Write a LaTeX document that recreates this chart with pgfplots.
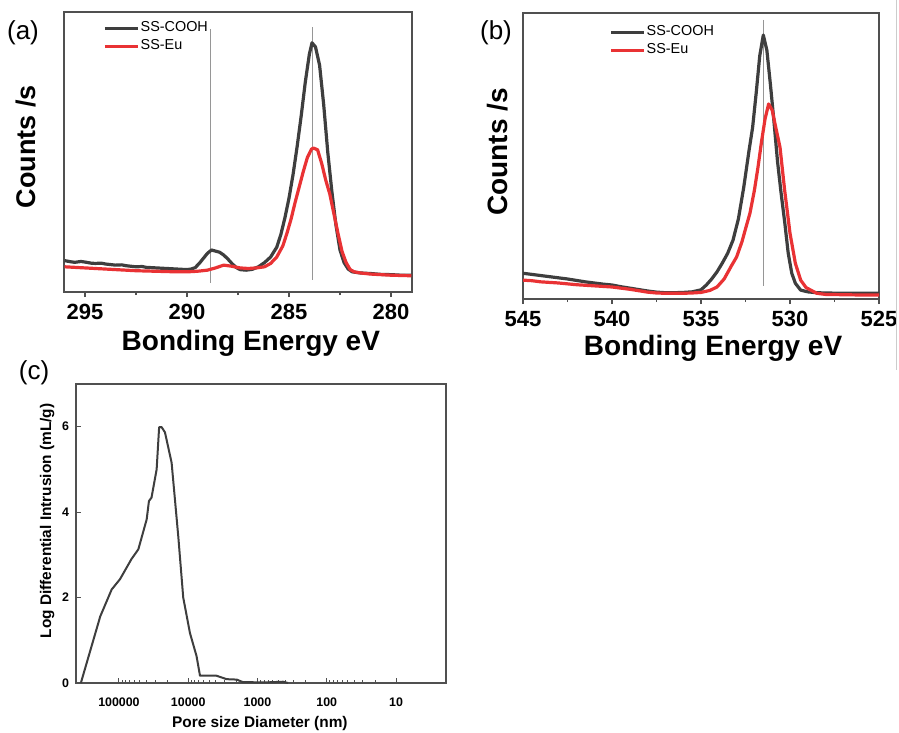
\documentclass[border=0pt]{standalone}
\usepackage{fontspec}
\setmainfont{Liberation Sans}
\usepackage{pgfplots}
\pgfplotsset{compat=1.18}

\definecolor{cooh}{RGB}{62,62,62}
\definecolor{eu}{RGB}{233,50,52}
\definecolor{frame}{RGB}{80,80,80}
\definecolor{marker}{RGB}{150,150,150}

\pgfplotsset{
  xps/.style={
    scale only axis,
    x dir=reverse,
    ymin=0, ymax=100,
    ytick=\empty,
    xtick pos=bottom,
    tick align=outside,
    major tick length=2.5pt,
    minor tick length=1.6pt,
    axis line style={frame, line width=0.6pt},
    every tick/.append style={frame, line width=0.6pt},
    /pgf/number format/assume math mode=true,
    xticklabel style={font=\fontsize{11}{11}\selectfont\bfseries},
    label style={font=\fontsize{14}{14}\selectfont\bfseries},
    legend cell align=left,
    legend image code/.code={\draw[#1, line width=1.5pt] (0pt,0pt) -- (16.5pt,0pt);},
    legend style={draw=none, fill=none, anchor=north west,
      font=\fontsize{7.2}{7.2}\selectfont, row sep=1.2pt,
      nodes={inner sep=0.6pt}},
  },
  cooh line/.style={color=cooh, line width=1.6pt, line join=round},
  eu line/.style={color=eu, line width=1.6pt, line join=round},
}

\begin{document}
\begin{tikzpicture}
\path[use as bounding box] (0pt,0pt) rectangle (449.5pt,-366.5pt);

% (a) C 1s
\begin{axis}[xps,
  at={(32pt,-146pt)}, anchor=south west,
  width=174pt, height=140pt,
  xmin=278.97, xmax=296.03,
  xtick={280,285,290,295}, minor xtick={282.5,287.5,292.5},
  xlabel={Bonding Energy eV}, ylabel={Counts /s},
  xlabel style={at={(axis description cs:0.537,-0.182)}, anchor=center},
  ylabel style={at={(axis description cs:-0.109,0.518)}, anchor=center,
    font=\fontsize{13.5}{13.5}\selectfont\bfseries},
  legend style={at={(0.095,0.985)}},
]
\addplot[marker, line width=0.5pt, forget plot] coordinates {(288.87,93.9) (288.87,3.2)};
\addplot[marker, line width=0.5pt, forget plot] coordinates {(283.87,94.6) (283.87,4.3)};
\addplot[cooh line] coordinates {
(296.0,11.2) (295.7,10.8) (295.5,10.6) (295.2,10.9) (295.0,10.7) (294.7,10.3)
(294.5,10.2) (294.2,10.3) (294.0,10.0) (293.5,9.6) (293.2,9.7) (293.0,9.4)
(292.5,9.0) (292.2,9.1) (292.0,8.8) (291.5,8.6) (291.0,8.4) (290.5,8.2)
(290.0,8.0) (289.8,8.2) (289.6,8.7) (289.4,10.2) (289.2,12.0) (289.0,13.8)
(288.8,15.0) (288.6,14.6) (288.4,14.2) (288.2,13.2) (288.0,11.8) (287.8,10.2)
(287.6,8.8) (287.4,8.0) (287.1,7.8) (286.8,8.1) (286.5,9.0) (286.2,10.5)
(285.9,12.5) (285.6,16.0) (285.4,20.5) (285.2,26.5) (285.0,33.5) (284.8,42)
(284.6,52) (284.4,63) (284.2,75) (284.0,85) (283.87,89) (283.7,87.5)
(283.5,81) (283.3,67) (283.1,50) (282.9,36) (282.7,24) (282.5,15)
(282.3,10.5) (282.1,8.2) (281.9,7.2) (281.5,6.8) (281.0,6.6) (280.5,6.3)
(280.0,6.2) (279.5,6.0) (279.0,6.0)
};
\addlegendentry{SS-COOH}
\addplot[eu line] coordinates {
(296.0,9.0) (295.5,8.8) (295.0,8.6) (294.5,8.4) (294.0,8.2) (293.5,8.0)
(293.0,7.8) (292.5,7.6) (292.0,7.5) (291.5,7.4) (291.0,7.3) (290.5,7.2)
(290.0,7.2) (289.5,7.4) (289.0,7.8) (288.6,8.6) (288.2,9.6) (287.8,9.2)
(287.4,8.6) (287.0,8.4) (286.6,8.6) (286.2,9.0) (285.9,10.2) (285.6,12.5)
(285.3,16.5) (285.1,21) (284.9,26) (284.7,32) (284.5,37.5) (284.3,43)
(284.1,48) (283.9,51) (283.8,51.4) (283.6,50.8) (283.4,46) (283.2,40)
(283.0,35) (282.8,28) (282.6,21) (282.4,14.5) (282.2,10.5) (282.0,8.0)
(281.8,7.2) (281.5,6.8) (281.0,6.4) (280.5,6.2) (280.0,6.0) (279.5,5.9)
(279.0,5.8)
};
\addlegendentry{SS-Eu}
\end{axis}

% (b) O 1s
\begin{axis}[xps,
  at={(261.5pt,-149.5pt)}, anchor=south west,
  width=178pt, height=143pt,
  xmin=525, xmax=545,
  xtick={525,530,535,540,545}, minor xtick={527.5,532.5,537.5,542.5},
  xlabel={Bonding Energy eV}, ylabel={Counts /s},
  xlabel style={at={(axis description cs:0.534,-0.171)}, anchor=center},
  ylabel style={at={(axis description cs:-0.070,0.514)}, anchor=center},
  legend style={at={(0.225,0.975)}},
]
\addplot[marker, line width=0.5pt, forget plot] coordinates {(531.5,97.6) (531.5,4.5)};
\addplot[cooh line] coordinates {
(545.0,9.0) (544.5,8.6) (544.0,8.2) (543.5,7.8) (543.0,7.4) (542.5,7.0)
(542.0,6.5) (541.5,6.0) (541.0,5.6) (540.5,5.2) (540.0,4.9) (539.5,4.3)
(539.0,3.8) (538.5,3.3) (538.0,2.8) (537.5,2.4) (537.0,2.2) (536.5,2.2)
(536.0,2.3) (535.5,2.5) (535.0,3.2) (534.7,4.9) (534.4,7.0) (534.1,9.5)
(533.8,12.6) (533.5,16) (533.2,20.6) (532.9,28) (532.6,39) (532.3,52)
(532.1,60) (531.9,72) (531.7,85) (531.5,92.3) (531.3,87) (531.1,75)
(530.9,62) (530.7,48) (530.5,37) (530.3,27) (530.1,16) (529.9,9)
(529.7,5.5) (529.4,3.1) (529.0,2.5) (528.5,2.2) (528.0,2.1) (527.0,2.0)
(526.0,2.0) (525.0,2.0)
};
\addlegendentry{SS-COOH}
\addplot[eu line] coordinates {
(545.0,6.6) (544.5,6.4) (544.0,6.0) (543.5,5.8) (543.0,5.6) (542.5,5.3)
(542.0,5.0) (541.5,4.8) (541.0,4.6) (540.5,4.4) (540.0,4.2) (539.5,3.8)
(539.0,3.4) (538.5,2.9) (538.0,2.4) (537.5,2.1) (537.0,2.0) (536.5,2.0)
(536.0,2.0) (535.5,2.1) (535.0,2.3) (534.5,3.0) (534.1,4.2) (533.7,7.0)
(533.3,11.5) (533.0,14.7) (532.7,20) (532.5,24.5) (532.25,30) (532.0,38)
(531.8,46) (531.6,55) (531.4,63) (531.2,68.2) (531.0,66) (530.8,60)
(530.56,53) (530.3,38) (530.0,23) (529.7,12.5) (529.4,6.6) (529.1,4.0)
(528.5,2.0) (528.0,1.6) (527.0,1.5) (526.0,1.4) (525.0,1.4)
};
\addlegendentry{SS-Eu}
\end{axis}

% (c) pore size distribution
\begin{axis}[
  scale only axis,
  at={(38pt,-341.5pt)}, anchor=south west,
  width=185pt, height=149.5pt,
  xmode=log, x dir=reverse,
  xmin=1.9, xmax=417000,
  ymin=0, ymax=7,
  xtick={10,100,1000,10000,100000},
  xticklabels={10,100,1000,10000,100000},
  ytick={0,2,4,6},
  tick pos=left, tick align=inside,
  major tick length=2.5pt, minor tick length=1.3pt,
  axis line style={frame, line width=0.6pt},
  every tick/.append style={frame, line width=0.5pt},
  /pgf/number format/assume math mode=true,
  ticklabel style={font=\fontsize{6.2}{6.2}\selectfont\bfseries},
  xticklabel style={yshift=-4pt},
  label style={font=\fontsize{7.7}{7.7}\selectfont\bfseries},
  xlabel={Pore size Diameter (nm)},
  ylabel={Log Differential Intrusion (mL/g)},
  xlabel style={at={(axis description cs:0.497,-0.134)}, anchor=center},
  ylabel style={at={(axis description cs:-0.078,0.542)}, anchor=center},
]
\addplot[color=cooh, line width=1pt, line join=round] coordinates {
(354813,0) (186209,1.56) (127350,2.19) (96605,2.43) (66069,2.9)
(52481,3.13) (39811,3.83) (36898,4.26) (33884,4.34) (28576,5.0)
(26303,5.99) (24210,5.99) (21677,5.87) (17378,5.16) (13932,3.44)
(11803,2.0) (9441,1.17) (7586,0.63) (6761,0.17) (3890,0.17)
(2793,0.09) (1995,0.08) (1622,0.02) (741,0.015) (427,0.03) (363,0)
};
\end{axis}

\node[font=\fontsize{13}{13}\selectfont] at (11.5pt,-16.5pt) {(a)};
\node[font=\fontsize{13}{13}\selectfont] at (248pt,-16.5pt) {(b)};
\node[font=\fontsize{13}{13}\selectfont] at (17pt,-186.5pt) {(c)};
\draw[gray!40, line width=0.4pt] (448pt,0pt) -- (448pt,-185pt);
\end{tikzpicture}
\end{document}
